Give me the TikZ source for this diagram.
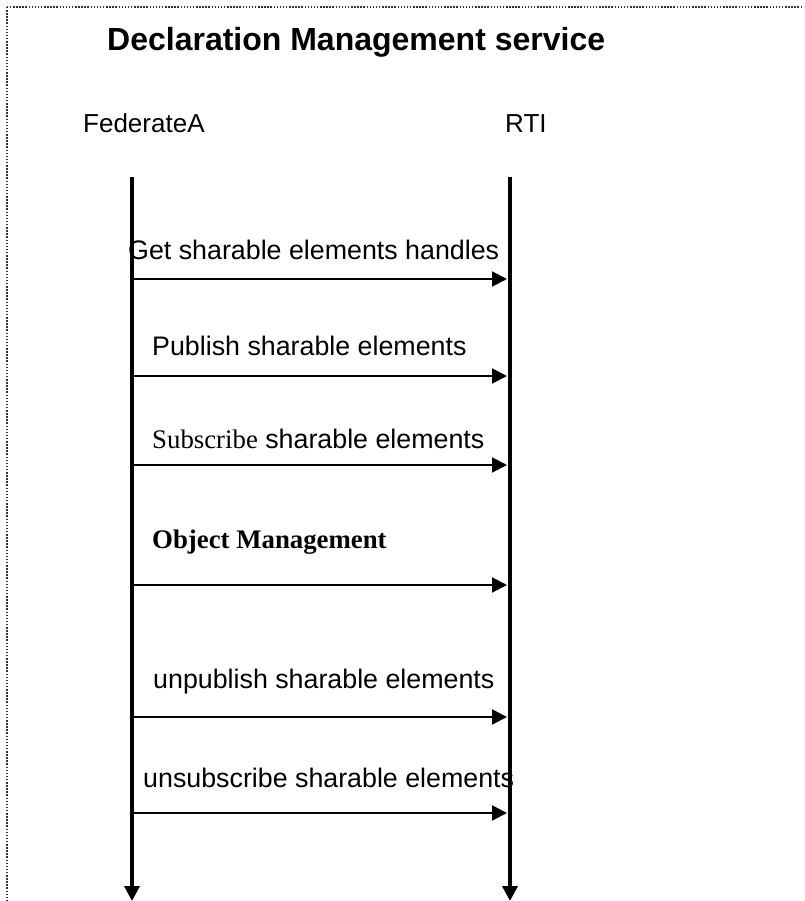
\documentclass[tikz,border=0pt]{standalone}
\usepackage{fontspec}
\setmainfont{Liberation Sans}
\newfontfamily\seriffont{Liberation Serif}
\usetikzlibrary{arrows.meta}
\begin{document}
\begin{tikzpicture}[x=1pt,y=-1pt,
  lifeline/.style={line width=4pt,-{Triangle[length=15pt,width=15pt]}},
  message/.style={line width=2pt,-{Triangle[length=15pt,width=15pt]},shorten >=1pt},
  label/.style={anchor=base west,inner sep=0pt,font=\fontsize{26.8}{30}\selectfont},
  actor/.style={anchor=base west,inner sep=0pt,font=\fontsize{26}{30}\selectfont},
  frame/.style={draw=black!80,line width=1.5pt,dash pattern=on 1.5pt off 1.6pt}]
\useasboundingbox (0,0) rectangle (804,901);
\begin{scope}
  \clip (0,0) rectangle (804,901);
  \draw[frame] (7,7) rectangle (830,930);
\end{scope}

% title and participants
\node[anchor=base west,inner sep=0pt,font=\fontsize{32}{36}\selectfont\bfseries] (title) at (107,51) {Declaration Management service};
\node[actor] (fedA) at (83,133) {FederateA};
\node[actor] (rti) at (505,133) {RTI};

% lifelines
\coordinate (Atop) at (132,177);
\coordinate (Abot) at (132,901);
\coordinate (Btop) at (510,177);
\coordinate (Bbot) at (510,901);
\draw[lifeline] (Atop) -- (Abot);
\draw[lifeline] (Btop) -- (Bbot);

% message end points
\foreach \i/\y in {1/279,2/376,3/465,4/585,5/717,6/813}{
  \coordinate (A\i) at (134,\y);
  \coordinate (B\i) at (508,\y);
}

% messages
\draw[message] (A1) -- (B1);
\draw[message] (A2) -- (B2);
\draw[message] (A3) -- (B3);
\draw[message] (A4) -- (B4);
\draw[message] (A5) -- (B5);
\draw[message] (A6) -- (B6);

% message labels
\node[label] (m1) at (128,259) {Get sharable elements handles};
\node[label] (m2) at (152,355) {Publish sharable elements};
\node[label] (m3) at (152,448) {{\seriffont Subscribe} sharable elements};
\node[label] (m4) at (152,548) {\seriffont\bfseries Object Management};
\node[label] (m5) at (153,688) {unpublish sharable elements};
\node[label] (m6) at (143,787) {unsubscribe sharable elements};
\end{tikzpicture}
\end{document}
